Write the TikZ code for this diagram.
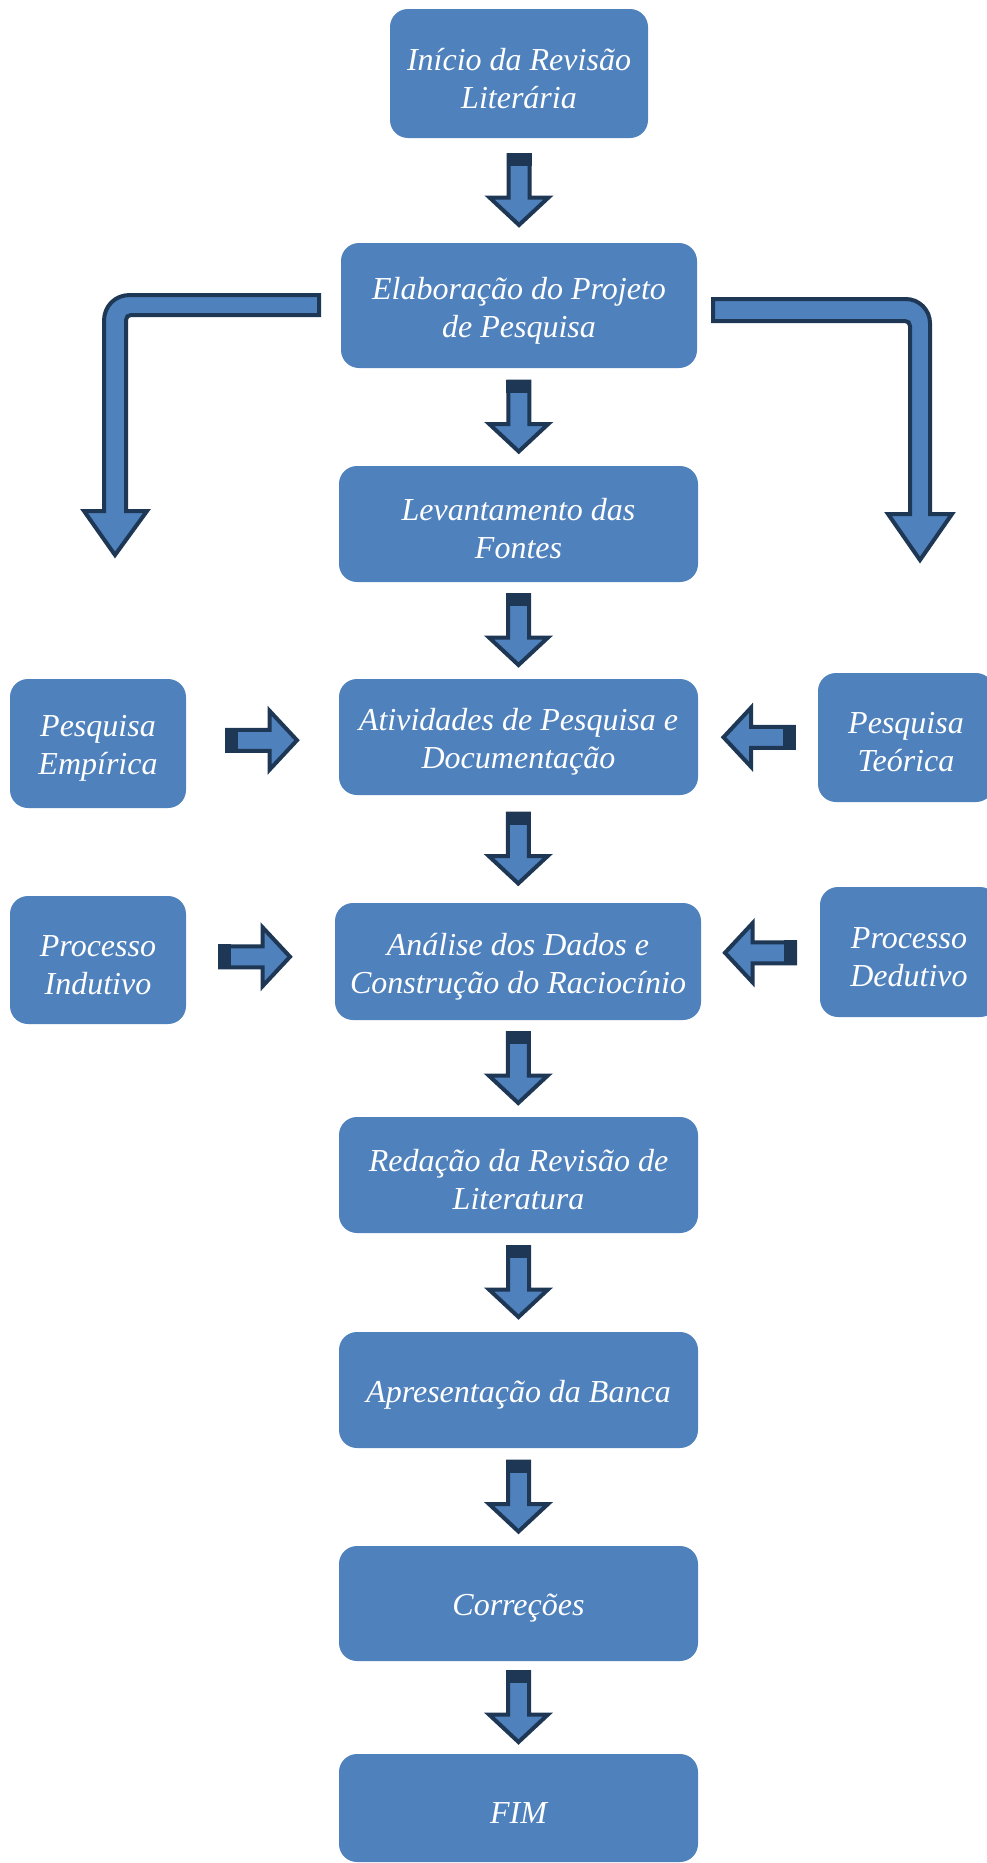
\documentclass[tikz,border=0pt]{standalone}
\usepackage{fontspec}
\setmainfont{Liberation Serif}
\usetikzlibrary{calc}
\definecolor{boxblue}{HTML}{4F81BD}
\definecolor{dk}{HTML}{1E3755}
\tikzset{
  box/.style={rectangle, rounded corners=18pt, fill=boxblue, draw=none, inner sep=0pt},
  txt/.style={inner sep=0pt, text=white, align=center, font=\fontsize{32}{38}\selectfont\itshape},
  arw/.style={fill=boxblue, draw=dk, line width=4pt, line join=miter},
  pics/darrow/.style={code={
    \draw[arw] (-10.5,-35.5) -- (-10.5,7) -- (-29.5,7) -- (0,34.5) -- (29.5,7) -- (10.5,7) -- (10.5,-35.5) -- cycle;
    \fill[dk] (-12.5,-37.5) rectangle (12.5,-24.5);
  }}
}
\newcommand{\mybox}[5]{%
  \node[box, minimum width=#3pt, minimum height=#4pt] (#1) at (#2) {};
  \node[txt] (#1-t) at ($(#1.center)+(0,5)$) {#5};
}
\begin{document}
\begin{tikzpicture}[x=1pt,y=-1pt]
\useasboundingbox (0,0) rectangle (986,1863);
% main column
\mybox{b1}{519,73.5}{258}{129}{Início da Revisão\\Literária}
\mybox{b2}{519,305.5}{356}{125}{Elaboração do Projeto\\de Pesquisa}
\mybox{b3}{518.5,524}{359}{116}{Levantamento das\\Fontes}
\mybox{b4}{518.5,737}{359}{116}{Atividades de Pesquisa e\\Documentação}
\mybox{b5}{518,961.5}{366}{117}{Análise dos Dados e\\Construção do Raciocínio}
\mybox{b6}{518.5,1175}{359}{116}{Redação da Revisão de\\Literatura}
\mybox{b7}{518.5,1390}{359}{116}{Apresentação da Banca}
\mybox{b8}{518.5,1603.5}{359}{115}{Correções}
\mybox{b9}{518.5,1808}{359}{108}{FIM}
% side boxes
\mybox{emp}{98,743.5}{176}{129}{Pesquisa\\Empírica}
\mybox{teo}{906,737.5}{176}{129}{Pesquisa\\Teórica}
\mybox{ind}{98,960}{176}{128}{Processo\\Indutivo}
\mybox{ded}{909,952}{178}{130}{Processo\\Dedutivo}
% down arrows
\pic at ($(b1.south)!0.5!(b2.north)$) {darrow};
\pic at ($(b2.south)!0.5!(b3.north)$) {darrow};
\pic at ($(b3.south)!0.5!(b4.north)$) {darrow};
\pic at ($(b4.south)!0.5!(b5.north)$) {darrow};
\pic at ($(b5.south)!0.5!(b6.north)$) {darrow};
\pic at ($(b6.south)!0.5!(b7.north)$) {darrow};
\pic at ($(b7.south)!0.5!(b8.north)$) {darrow};
\pic at ($(b8.south)!0.5!(b9.north)$) {darrow};
% side arrows
\pic[rotate=90] at ($(emp.east)!0.5!(b4.west)$) {darrow};
\pic[rotate=-90] at ($(teo.west)!0.5!(b4.east)$) {darrow};
\pic[rotate=90] at ($(ind.east)!0.5!(b5.west)+(-5,-4)$) {darrow};
\pic[rotate=-90] at ($(ded.west)!0.5!(b5.east)+(-1,-4)$) {darrow};
% bent arrows
\draw[arw] (319,295) -- (130,295) .. controls (115,295) and (104,306) .. (104,321)
  -- (104,511) -- (84,511) -- (115,555) -- (147,511) -- (126,511) -- (126,320)
  .. controls (126,317) and (128,315) .. (131,315) -- (319,315) -- cycle;
\draw[arw] (713,299) -- (906,299) .. controls (919,299) and (930,310) .. (930,323)
  -- (930,514) -- (952,514) -- (920,560) -- (888,514) -- (910,514) -- (910,326)
  .. controls (910,323) and (908,321) .. (905,321) -- (713,321) -- cycle;
\end{tikzpicture}
\end{document}
